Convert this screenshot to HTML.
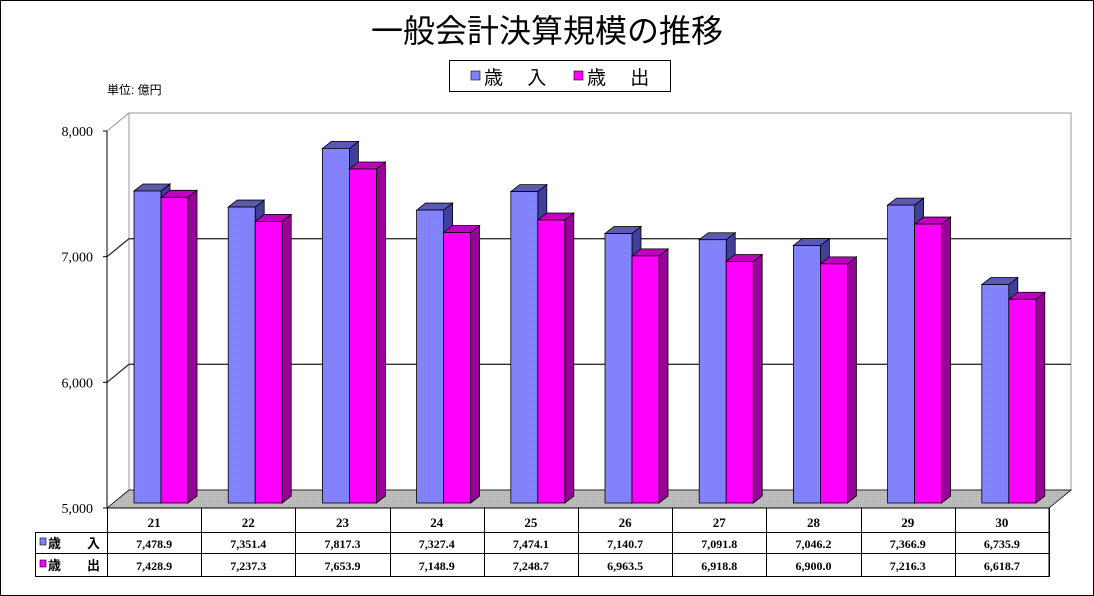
<!DOCTYPE html>
<html><head><meta charset="utf-8">
<style>
html,body{margin:0;padding:0;background:#fff;}
svg{display:block;}
</style></head>
<body>
<svg id="chart" width="1094" height="596" xmlns="http://www.w3.org/2000/svg" font-family="'Liberation Serif','Noto Serif CJK SC',serif">
<defs>
<pattern id="dither" width="2" height="2" patternUnits="userSpaceOnUse"><rect width="2" height="2" fill="#8585ff"/><rect width="1" height="1" fill="#7a7af0"/></pattern>
<pattern id="floorpat" width="2" height="2" patternUnits="userSpaceOnUse"><rect width="2" height="2" fill="#c0c0c0"/><rect width="1" height="1" fill="#a8a8a8"/></pattern>
</defs>
<rect x="0.5" y="0.5" width="1093" height="595" fill="#fff" stroke="#000"/>
<text x="547" y="42" text-anchor="middle" font-size="32" font-family="'Liberation Sans','Noto Sans CJK JP',sans-serif">一般会計決算規模の推移</text>
<g>
<rect x="449.5" y="60.5" width="221" height="31" fill="#fff" stroke="#000"/>
<rect x="471" y="71" width="9" height="9" fill="#8080ff" stroke="#000" stroke-width="0.6"/>
<text x="484" y="84" font-size="19" font-family="'Liberation Sans','Noto Sans CJK JP',sans-serif">歳　 入</text>
<rect x="574" y="71" width="9" height="9" fill="#ff00ff" stroke="#000" stroke-width="0.6"/>
<text x="587" y="84" font-size="19" font-family="'Liberation Sans','Noto Sans CJK JP',sans-serif">歳　 出</text>
</g>
<text x="107" y="94" font-size="12" font-family="'Liberation Sans','Noto Sans CJK JP',sans-serif">単位: 億円</text>
<g id="plot"></g>
</svg>
<script>
const cats = ["21","22","23","24","25","26","27","28","29","30"];
const revenue = [7478.9,7351.4,7817.3,7327.4,7474.1,7140.7,7091.8,7046.2,7366.9,6735.9];
const expense = [7428.9,7237.3,7653.9,7148.9,7248.7,6963.5,6918.8,6900.0,7216.3,6618.7];
const ticks = [5000,6000,7000,8000];
const tickLabels = ["5,000","6,000","7,000","8,000"];

const NS="http://www.w3.org/2000/svg";
const g=document.getElementById('plot');
function el(tag,attrs,parent){const e=document.createElementNS(NS,tag);for(const k in attrs)e.setAttribute(k,attrs[k]);(parent||g).appendChild(e);return e;}
const X0=107, X1=1049, Y0=508, DX=22, DY=-18, VMIN=5000, VMAX=8000;
const scale=(508-131)/(VMAX-VMIN);
const yFront=v=>Y0-(v-VMIN)*scale;
const yBack=v=>Y0+DY-(v-VMIN)*scale;
const colW=(X1-X0)/cats.length;
const xCat=i=>X0+i*colW;
const barScale=(503-191)/(7478.9-VMIN);
const yBar=v=>503-(v-VMIN)*barScale;

// back wall
let w=el('polygon',{points:`${X0+DX},${yBack(VMAX)} ${X1+DX},${yBack(VMAX)} ${X1+DX},${Y0+DY} ${X0+DX},${Y0+DY}`,fill:'#fff',stroke:'#999'});


let lw=el('polyline',{points:`${X0},${yFront(VMAX)} ${X0+DX},${yBack(VMAX)}`,fill:'none',stroke:'#999'});


// gridlines
ticks.forEach((t,i)=>{
  if(t>VMIN && t<VMAX){
    const gl=el('polyline',{points:`${X0},${yFront(t)} ${X0+DX},${yBack(t)} ${X1+DX},${yBack(t)}`,fill:'none',stroke:'#333','stroke-width':1.3});
    
    
  }
  const tk=el('line',{x1:X0-4,x2:X0,y1:yFront(t),y2:yFront(t),stroke:'#000'});
  
  
  const tl=el('text',{x:X0-14,y:yFront(t)+5,'text-anchor':'end','font-size':14});
  tl.textContent=tickLabels[i];
  
  
});
// floor
let fl=el('polygon',{points:`${X0},${Y0} ${X0+DX},${Y0+DY} ${X1+DX},${Y0+DY} ${X1},${Y0}`,fill:'url(#floorpat)',stroke:'#000','stroke-width':0.8});


let ax=el('line',{x1:X0,x2:X0,y1:yFront(VMAX),y2:Y0,stroke:'#000'});



function bar(x,v,front,top,side,name){
  const y=yBar(v), w=27, bx=9, by=-7, base=503;
  const grp=el('g',{});
  
  
  el('polygon',{points:`${x+w},${base} ${x+w+bx},${base+by} ${x+w+bx},${y+by} ${x+w},${y}`,fill:side,stroke:'#000','stroke-width':0.8},grp);
  el('polygon',{points:`${x},${y} ${x+bx},${y+by} ${x+w+bx},${y+by} ${x+w},${y}`,fill:top,stroke:'#000','stroke-width':0.8},grp);
  el('rect',{x:x,y:y,width:w,height:base-y,fill:front,stroke:'#000','stroke-width':0.8},grp);
}
cats.forEach((c,i)=>{
  const x=xCat(i)+27;
  bar(x,revenue[i],'url(#dither)','#5a5ab4','#40409a','bar-revenue-'+c);
  bar(x+27,expense[i],'#ff00ff','#c000c0','#990099','bar-expense-'+c);
});

// data table
const T=document.getElementById('chart');
const rows=[508,532,553,577];
const tbl=el('g',{'font-family':"'Liberation Serif','Noto Serif CJK JP',serif"});


el('line',{x1:X0,x2:X1,y1:Y0,y2:Y0,stroke:'#000'},tbl);
el('rect',{x:35.5,y:532.5,width:X1-35.5,height:44,fill:'none',stroke:'#000'},tbl);
el('line',{x1:35,x2:X1,y1:553.5,y2:553.5,stroke:'#000'},tbl);
el('line',{x1:X1,x2:X1,y1:508,y2:577,stroke:'#000'},tbl);
for(let i=0;i<=cats.length;i++){
  el('line',{x1:Math.round(xCat(i))+0.5,x2:Math.round(xCat(i))+0.5,y1:508,y2:577,stroke:'#000'},tbl);
}
cats.forEach((c,i)=>{
  const cx=xCat(i)+colW/2;
  const h=el('text',{x:cx,y:527,'text-anchor':'middle','font-size':13,'font-weight':'bold'},tbl);
  h.textContent=c;
  
  
  const r=el('text',{x:cx,y:548,'text-anchor':'middle','font-size':12,'font-weight':'bold'},tbl);
  r.textContent=revenue[i].toLocaleString('en-US',{minimumFractionDigits:1,maximumFractionDigits:1});
  
  
  const e=el('text',{x:cx,y:570,'text-anchor':'middle','font-size':12,'font-weight':'bold'},tbl);
  e.textContent=expense[i].toLocaleString('en-US',{minimumFractionDigits:1,maximumFractionDigits:1});
  
  
});
[[538,'#8080ff','歳　　入','table-row-label-revenue',548],[560,'#ff00ff','歳　　出','table-row-label-expense',570]].forEach(a=>{
  const s=el('rect',{x:40,y:a[0],width:6,height:7,fill:a[1],stroke:'#000','stroke-width':0.6},tbl);
  
  
  const t=el('text',{x:48,y:a[4],'font-size':13,'font-weight':'bold','font-family':"'Liberation Sans','Noto Sans CJK JP',sans-serif"},tbl);
  t.textContent=a[2];
  
  
});
</script>
</body></html>
